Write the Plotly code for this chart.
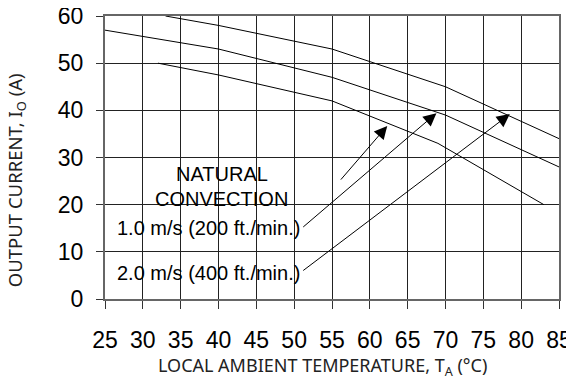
import plotly.graph_objects as go

# derating curves
temp_natural = [32, 40, 55, 69, 83]
amps_natural = [50, 47.5, 42, 33, 20]

temp_1ms = [25, 40, 55, 70, 85]
amps_1ms = [57, 53, 47, 39, 28]

temp_2ms = [33, 40, 55, 70, 85]
amps_2ms = [60, 58, 53, 45, 34]

x_ticks = [25, 30, 35, 40, 45, 50, 55, 60, 65, 70, 75, 80, 85]
y_ticks = [0, 10, 20, 30, 40, 50, 60]

# label text, its position, and the arrow (tail -> head) for each curve
labels = ["NATURAL", "CONVECTION", "1.0 m/s (200 ft./min.)", "2.0 m/s (400 ft./min.)"]
label_x = [40.4, 40.4, 38.7, 38.7]
label_y = [26.5, 21.2, 15.0, 5.5]

arrow_tail_x = [56.0, 51.0, 51.0]
arrow_tail_y = [25.0, 15.0, 5.8]
arrow_head_x = [62.3, 68.8, 78.5]
arrow_head_y = [36.7, 39.4, 39.2]

x_title = "LOCAL AMBIENT TEMPERATURE, T<sub>A</sub> (°C)"
y_title = "OUTPUT CURRENT, I<sub>O</sub> (A)"

tick_font = {"family": "Liberation Sans, Arial, sans-serif", "size": 23, "color": "black"}

fig = go.Figure()
for xs, ys in [(temp_natural, amps_natural), (temp_1ms, amps_1ms), (temp_2ms, amps_2ms)]:
    fig.add_trace(
        go.Scatter(
            x = xs,
            y = ys,
            mode = "lines",
            line = {"color": "black", "width": 1},
            showlegend = False,
        )
    )

annotations = []
for text, x, y in zip(labels, label_x, label_y):
    annotations.append({
        "x": x, "y": y, "xref": "x", "yref": "y",
        "text": text, "showarrow": False,
        "font": {"family": "Liberation Sans, Arial, sans-serif", "size": 20, "color": "black"},
    })

for tx, ty, hx, hy in zip(arrow_tail_x, arrow_tail_y, arrow_head_x, arrow_head_y):
    annotations.append({
        "x": hx, "y": hy, "ax": tx, "ay": ty,
        "xref": "x", "yref": "y", "axref": "x", "ayref": "y",
        "text": "", "showarrow": True,
        "arrowhead": 2, "arrowsize": 2.6, "arrowwidth": 1, "arrowcolor": "black",
    })

# axis titles sit off-centre in the reference, so they are placed as annotations
annotations.append({
    "x": 0.48, "y": -0.237, "xref": "paper", "yref": "paper",
    "xanchor": "center", "yanchor": "middle",
    "text": x_title, "showarrow": False,
    "font": {"family": "Noto Sans, sans-serif", "size": 18, "color": "#222"},
})
annotations.append({
    "x": -0.196, "y": 0.42, "xref": "paper", "yref": "paper",
    "xanchor": "center", "yanchor": "middle",
    "text": y_title, "showarrow": False, "textangle": -90,
    "font": {"family": "Noto Sans, sans-serif", "size": 18.5, "color": "#222"},
})

# page body has an 8px margin, so the figure is a bit smaller than the window
fig.update_layout(
    width = 566,
    height = 370,
    margin = {"l": 97, "r": 15, "t": 8, "b": 79, "pad": 0},
    paper_bgcolor = "white",
    plot_bgcolor = "white",
    xaxis = {
        "range": [25, 85],
        "tickvals": x_ticks,
        "tickfont": tick_font,
        "ticks": "outside",
        "ticklen": 8,
        "tickcolor": "#333",
        "ticklabelstandoff": 11,
        "ticklabeloverflow": "allow",
        "showgrid": True,
        "gridcolor": "#222",
        "gridwidth": 1,
        "showline": True,
        "linecolor": "#666",
        "linewidth": 2,
        "mirror": True,
        "zeroline": False,
        "automargin": False,
    },
    yaxis = {
        "range": [0, 60],
        "tickvals": y_ticks,
        "tickfont": tick_font,
        "ticks": "outside",
        "ticklen": 7,
        "tickcolor": "#333",
        "ticklabelstandoff": 8,
        "ticklabeloverflow": "allow",
        "showgrid": True,
        "gridcolor": "#222",
        "gridwidth": 1,
        "showline": True,
        "linecolor": "#666",
        "linewidth": 2,
        "mirror": True,
        "zeroline": False,
        "automargin": False,
    },
    annotations = annotations,
)

fig.write_html("out.html")
